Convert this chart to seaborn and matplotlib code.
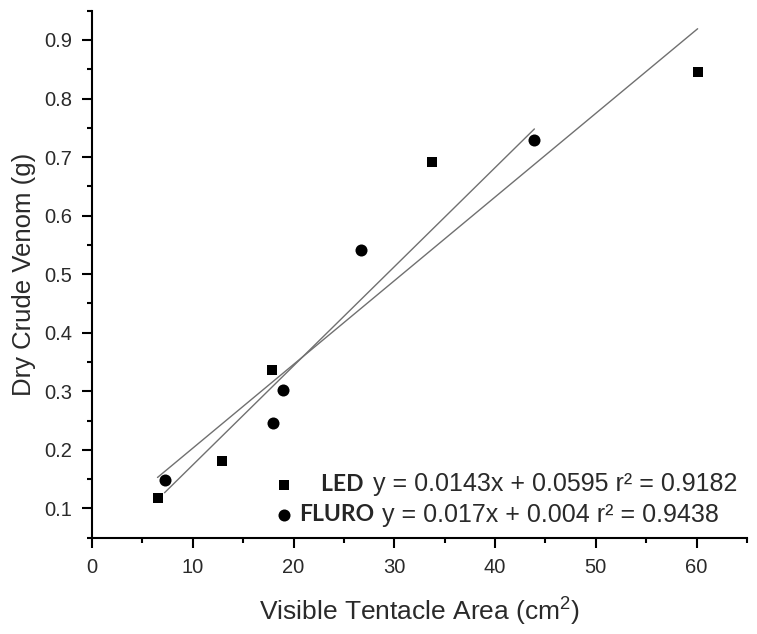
import matplotlib
matplotlib.use("Agg")
import matplotlib.pyplot as plt
import seaborn as sns
import pandas as pd
from matplotlib.ticker import MultipleLocator

# Data
led_area = [6.5, 12.9, 17.9, 33.7, 60.1]
led_venom = [0.118, 0.181, 0.337, 0.692, 0.846]
fluro_area = [7.2, 18.0, 19.0, 26.7, 43.9]
fluro_venom = [0.149, 0.246, 0.302, 0.541, 0.730]
series_labels = ["    LED", "FLURO"]
equations = ["y = 0.0143x + 0.0595 r\u00b2 = 0.9182",
             "y = 0.017x + 0.004 r\u00b2 = 0.9438"]
x_ticks = [0, 10, 20, 30, 40, 50, 60]
y_ticks = [0.1, 0.2, 0.3, 0.4, 0.5, 0.6, 0.7, 0.8, 0.9]

sns.set_theme(style="ticks")
plt.rcParams["font.family"] = ["Liberation Sans", "DejaVu Sans"]
plt.rcParams["mathtext.default"] = "regular"

fig = plt.figure(figsize=(7.57, 6.34), dpi=100)
ax = fig.add_axes([92 / 757, 1 - 537.7 / 634, 655 / 757, 527 / 634])

led = pd.DataFrame({"x": led_area, "y": led_venom})
fl = pd.DataFrame({"x": fluro_area, "y": fluro_venom})

sns.regplot(data=led, x="x", y="y", ax=ax, ci=None, truncate=True, marker="s",
            scatter_kws=dict(color="black", s=62, linewidths=0, alpha=1, zorder=3),
            line_kws=dict(color="#707070", linewidth=1.0, zorder=2))
sns.regplot(data=fl, x="x", y="y", ax=ax, ci=None, truncate=True, marker="o",
            scatter_kws=dict(color="black", s=75, linewidths=0, alpha=1, zorder=3),
            line_kws=dict(color="#707070", linewidth=1.0, zorder=2))

ax.set_xlim(0, 65)
ax.set_ylim(0.05, 0.95)
ax.xaxis.set_minor_locator(MultipleLocator(5))
ax.yaxis.set_minor_locator(MultipleLocator(0.05))
ax.set_xticks(x_ticks)
ax.set_xticklabels([str(v) for v in x_ticks])
ax.set_yticks(y_ticks)
ax.set_yticklabels([f"{v:.1f}" for v in y_ticks])

sns.despine(ax=ax)
for s in ["left", "bottom"]:
    ax.spines[s].set_linewidth(1.5)
    ax.spines[s].set_color("black")
    ax.spines[s].set_capstyle("projecting")
ax.tick_params(which="major", length=7.5, width=1.5, color="black",
               labelsize=14.5, labelcolor="#2a2a2a")
ax.tick_params(which="minor", length=3.7, width=1.5, color="black")
ax.tick_params(axis="x", which="major", pad=7)
ax.tick_params(axis="y", which="major", pad=7)

ax.set_xlabel("Visible Tentacle Area (cm$^{2}$)", fontsize=19, color="#2a2a2a", labelpad=14)
ax.set_ylabel("Dry Crude Venom (g)", fontsize=18.5, color="#2a2a2a", labelpad=6)

handles = [ax.collections[0], ax.collections[1]]
leg = ax.legend(handles, series_labels, loc="center left",
                bbox_to_anchor=(0.268, 0.0725), frameon=False,
                prop=dict(family=["Lato", "DejaVu Sans"], weight="bold", size=16.5),
                handletextpad=0.38, labelspacing=0.38, handlelength=0.6,
                borderaxespad=0.0, borderpad=0.4, markerscale=1.0)

ax.text(0.429, 0.102, equations[0], transform=ax.transAxes, fontsize=18,
        color="#2a2a2a", va="center", ha="left")
ax.text(0.443, 0.043, equations[1], transform=ax.transAxes, fontsize=18,
        color="#2a2a2a", va="center", ha="left")

fig.savefig("out.png", dpi=100)
